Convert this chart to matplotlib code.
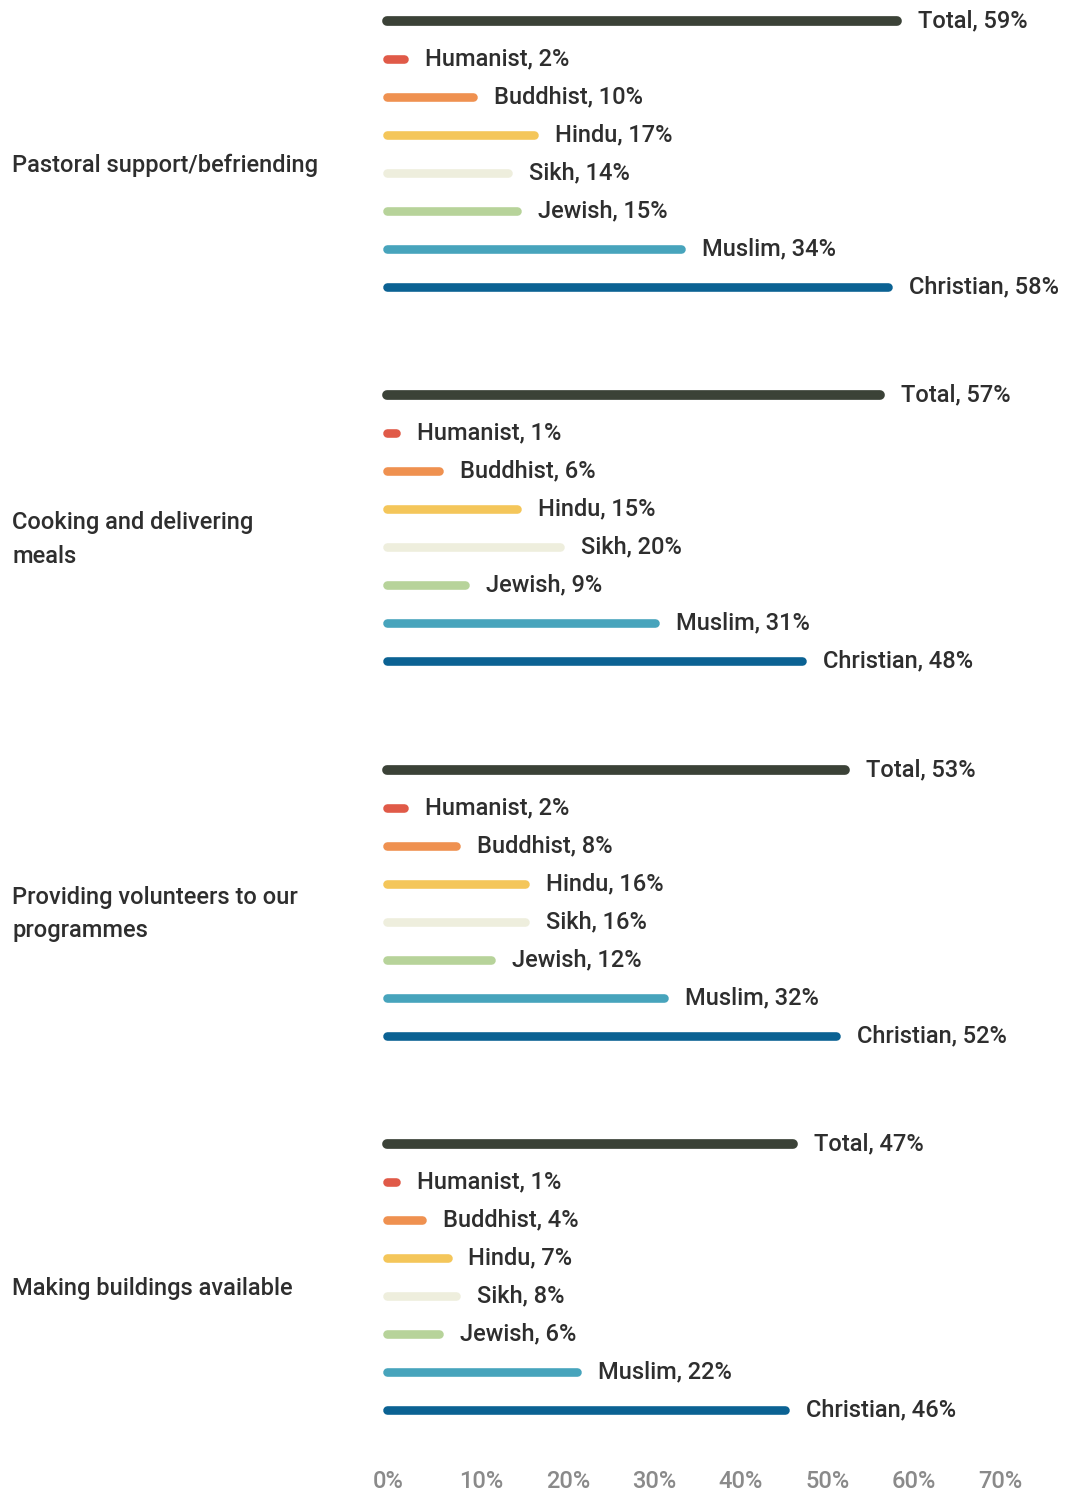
import matplotlib.pyplot as plt
import matplotlib.transforms as mtransforms

plt.rcParams["font.family"] = ["Roboto", "DejaVu Sans"]

categories = [
    "Pastoral support/befriending",
    "Cooking and delivering\nmeals",
    "Providing volunteers to our\nprogrammes",
    "Making buildings available",
]
series_names = ["Total", "Humanist", "Buddhist", "Hindu", "Sikh", "Jewish", "Muslim", "Christian"]
total = [59, 57, 53, 47]
humanist = [2, 1, 2, 1]
buddhist = [10, 6, 8, 4]
hindu = [17, 15, 16, 7]
sikh = [14, 20, 16, 8]
jewish = [15, 9, 12, 6]
muslim = [34, 31, 32, 22]
christian = [58, 48, 52, 46]
tick_values = [0, 10, 20, 30, 40, 50, 60, 70]

COLORS = ["#3b4237", "#e05a48", "#ef9150", "#f4c65a", "#eeeedd", "#b7d39a", "#47a4bc", "#0b6293"]
series = [total, humanist, buddhist, hindu, sikh, jewish, muslim, christian]

W, H = 1065, 1495
ROW = 38.0          # pixels per bar row
GROUP = 374.3 / ROW  # rows between group starts
FS = 17
WEIGHT = "medium"

fig = plt.figure(figsize=(W / 100, H / 100), dpi=100)
ax = fig.add_axes([387 / W, 1 - 1455 / H, (992 - 387) / W, 1455 / H])
ax.set_xlim(0, 70)
ax.set_ylim((1455 - 21) / ROW, -21 / ROW)

label_offset = mtransforms.ScaledTranslation(21 / 100, 0, fig.dpi_scale_trans)
for g, cat in enumerate(categories):
    base = g * GROUP
    for i, (name, vals) in enumerate(zip(series_names, series)):
        y = base + i
        lw = 7.0 if name == "Total" else 6.2
        ax.plot([0, vals[g]], [y, y], color=COLORS[i], lw=lw,
                solid_capstyle="round", clip_on=False, zorder=2)
        ax.text(vals[g], y, f"{name}, {vals[g]}%", fontsize=FS, color="#2e2e2e",
                fontweight=WEIGHT, va="center", ha="left",
                transform=ax.transData + label_offset)
    trans = mtransforms.blended_transform_factory(fig.transFigure, ax.transData)
    ax.text(12 / W, base + 3.8, cat, transform=trans, fontsize=FS,
            fontweight=WEIGHT, color="#2e2e2e", va="center", ha="left",
            linespacing=1.6)

ax.set_xticks(tick_values)
ax.set_xticklabels([f"{t}%" for t in tick_values])
ax.tick_params(axis="x", length=0, pad=11, labelsize=FS, labelcolor="#8a8a8a")
tick_shift = mtransforms.ScaledTranslation(-14 / 100, 0, fig.dpi_scale_trans)
for lbl in ax.get_xticklabels():
    lbl.set_ha("left")
    lbl.set_fontweight(WEIGHT)
    lbl.set_transform(lbl.get_transform() + tick_shift)
ax.set_yticks([])
for s in ax.spines.values():
    s.set_visible(False)

fig.savefig("out.png", dpi=100, facecolor="white")
